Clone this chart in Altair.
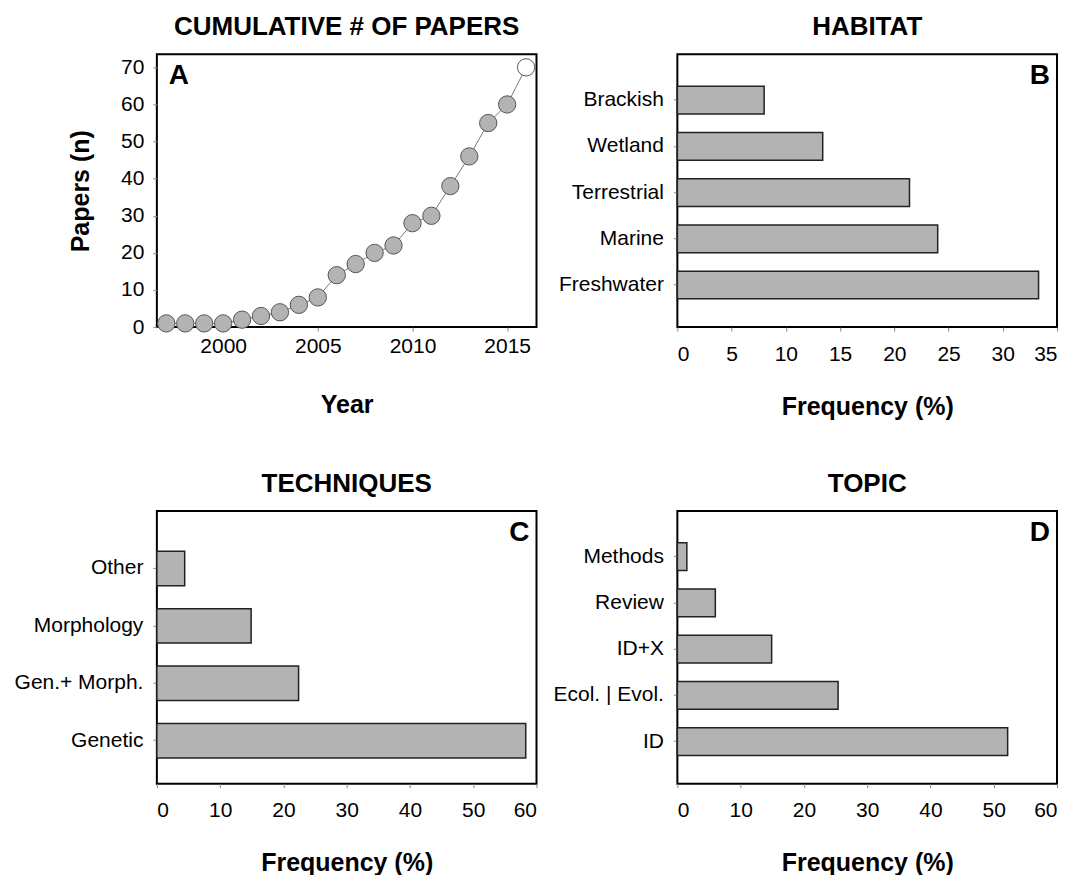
import altair as alt
import pandas as pd

# ---------------- data ----------------
years = list(range(1997, 2017))
papers = [1, 1, 1, 1, 2, 3, 4, 6, 8, 14, 17, 20, 22, 28, 30, 38, 46, 55, 60, 70]

habitat_cats = ["Brackish", "Wetland", "Terrestrial", "Marine", "Freshwater"]
habitat_vals = [8.0, 13.4, 21.4, 24.0, 33.3]

tech_cats = ["Other", "Morphology", "Gen.+ Morph.", "Genetic"]
tech_vals = [4.4, 14.9, 22.4, 58.3]

topic_cats = ["Methods", "Review", "ID+X", "Ecol. | Evol.", "ID"]
topic_vals = [1.5, 6.0, 14.9, 25.4, 52.2]

year_ticks = [2000, 2005, 2010, 2015]
papers_ticks = [0, 10, 20, 30, 40, 50, 60, 70]

# ---------------- style ----------------
FONT = "Liberation Sans"
W, H = 380, 273
GRAY = "#b3b3b3"


def letter_layer(letter, right):
    df = pd.DataFrame({"t": [letter]})
    if right:
        return alt.Chart(df).mark_text(
            fontSize=28, fontWeight="bold", font=FONT, align="right",
            baseline="alphabetic", color="black"
        ).encode(text="t:N", x=alt.value(W - 7), y=alt.value(30))
    return alt.Chart(df).mark_text(
        fontSize=28, fontWeight="bold", font=FONT, align="left",
        baseline="alphabetic", color="black"
    ).encode(text="t:N", x=alt.value(12), y=alt.value(30))


# ---------------- panel A ----------------
dfA = pd.DataFrame({"Year": years, "Papers": papers})
xA = alt.X(
    "Year:Q",
    scale=alt.Scale(domain=[1996.5, 2016.55], nice=False, zero=False),
    axis=alt.Axis(values=year_ticks, format="d", title="Year",
                  labelPadding=4, titlePadding=36),
)
yA = alt.Y(
    "Papers:Q",
    scale=alt.Scale(domain=[0, 73.5], nice=False),
    axis=alt.Axis(values=papers_ticks, title="Papers (n)",
                  labelPadding=9, titlePadding=27),
)
lineA = alt.Chart(dfA).mark_line(color="#777777", strokeWidth=1).encode(x=xA, y=yA)
pointsA = alt.Chart(dfA).mark_circle(
    size=300, stroke="#555555", strokeWidth=1, opacity=1
).encode(
    x=xA, y=yA,
    fill=alt.condition("datum.Year == 2016", alt.value("white"), alt.value(GRAY)),
)
panelA = alt.layer(lineA, pointsA, letter_layer("A", False)).properties(
    width=W, height=H, title="CUMULATIVE # OF PAPERS"
)


# ---------------- bar panels ----------------
def bar_panel(cats, vals, xmax, step, title, letter, pad_outer, align):
    df = pd.DataFrame({"cat": cats, "val": vals})
    bars = alt.Chart(df).mark_bar(
        fill=GRAY, stroke="#222222", strokeWidth=1.5
    ).encode(
        y=alt.Y(
            "cat:N", sort=cats,
            scale=alt.Scale(paddingInner=0.4, paddingOuter=pad_outer, align=align),
            axis=alt.Axis(title=None, labelPadding=10),
        ),
        x=alt.X(
            "val:Q",
            scale=alt.Scale(domain=[0, xmax], nice=False),
            axis=alt.Axis(values=list(range(0, xmax + 1, step)),
                          title="Frequency (%)", labelPadding=12, titlePadding=30),
        ),
    )
    return alt.layer(bars, letter_layer(letter, True)).properties(
        width=W, height=H, title=title
    )


panelB = bar_panel(habitat_cats, habitat_vals, 35, 5, "HABITAT", "B", 0.65, 0.53)
panelC = bar_panel(tech_cats, tech_vals, 60, 10, "TECHNIQUES", "C", 0.575, 0.61)
panelD = bar_panel(topic_cats, topic_vals, 60, 10, "TOPIC", "D", 0.65, 0.53)

chart = alt.concat(
    panelA, panelB, panelC, panelD,
    columns=2,
    spacing={"row": 184, "column": 141},
    bounds="flush",
).configure(
    padding=5,
    background="white",
).configure_view(
    stroke="black", strokeWidth=2
).configure_axis(
    labelFont=FONT, labelFontSize=21, labelColor="black",
    titleFont=FONT, titleFontSize=25, titleFontWeight="bold", titleColor="black",
    domain=False, grid=False, tickColor="#888888", tickSize=4, tickWidth=1,
).configure_title(
    font=FONT, fontSize=26, fontWeight="bold", color="black",
    anchor="middle", offset=14,
)

chart.save("out.html", embed_options={"renderer": "svg", "actions": False})
